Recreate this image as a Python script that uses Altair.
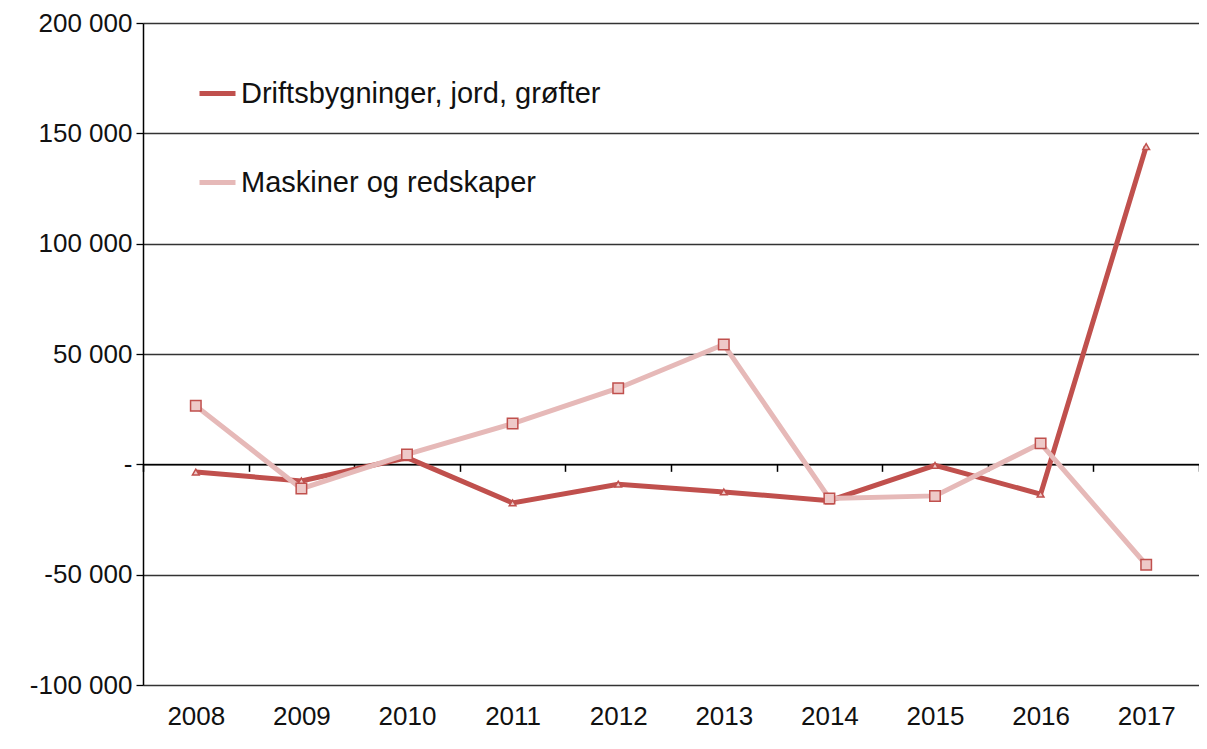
import altair as alt
import pandas as pd

years = [str(y) for y in range(2008, 2018)]
series_names = ["Driftsbygninger, jord, grøfter", "Maskiner og redskaper"]
drift = [-3500, -7500, 3000, -17500, -9000, -12500, -16500, -500, -13500, 144000]
mask = [26500, -11000, 4500, 18500, 34500, 54300, -15500, -14300, 9500, -45500]
line_colors = ["#c0504d", "#e6b9b8"]
marker_shapes = ["triangle-up", "square"]
marker_sizes = [45, 110]
y_ticks = [-100000, -50000, 0, 50000, 100000, 150000, 200000]

rows = []
for name, vals in zip(series_names, [drift, mask]):
    for yr, v in zip(years, vals):
        rows.append({"year": yr, "series": name, "value": v})
df = pd.DataFrame(rows)

W, H = 1056, 662
FONT = "Liberation Sans"

x_enc = alt.X(
    "year:O",
    bandPosition=0.5,
    scale=alt.Scale(type="band", paddingInner=0, paddingOuter=0),
    axis=alt.Axis(
        title=None, orient="bottom", offset=-H / 3,
        domainColor="#000", domainWidth=1.5,
        tickColor="#000", tickWidth=1.5, tickSize=7, tickBand="extent",
        labelAngle=0, labelFontSize=26, labelPadding=232, labelColor="#111",
        labelFont=FONT, grid=False,
    ),
)

y_enc = alt.Y(
    "value:Q",
    scale=alt.Scale(domain=[-100000, 200000], nice=False, zero=False),
    axis=alt.Axis(
        title=None, values=y_ticks, grid=True, gridColor="#333", gridWidth=1.3,
        domainColor="#000", domainWidth=1.5, tickColor="#000", tickWidth=1.3,
        tickSize=7, labelFontSize=26, labelColor="#111", labelFont=FONT,
        labelPadding=4,
        labelExpr="datum.value == 0 ? '-' : (datum.value < 0 ? '-' : '') + replace(format(abs(datum.value), ','), /,/g, ' ')",
    ),
)

color_enc = alt.Color(
    "series:N",
    scale=alt.Scale(domain=series_names, range=line_colors),
    legend=alt.Legend(
        title=None, orient="none", legendX=54, legendY=50, padding=0,
        symbolType="M-1,0H1", symbolSize=1296, symbolStrokeWidth=5,
        rowPadding=53, labelFontSize=29, labelFont=FONT, labelColor="#111",
        labelOffset=3, labelLimit=600,
    ),
)

lines = alt.Chart(df).mark_line(strokeWidth=5).encode(
    x=x_enc, y=y_enc, color=color_enc, order=alt.Order("year:O")
)

point_layers = []
for name, shp, sz in zip(series_names, marker_shapes, marker_sizes):
    point_layers.append(
        alt.Chart(df).transform_filter(alt.datum.series == name).mark_point(
            shape=shp, size=sz, filled=True, fill="#eec9c8", stroke="#c0504d",
            strokeWidth=1.5, opacity=1
        ).encode(x=x_enc, y=y_enc)
    )

chart = alt.layer(lines, *point_layers).properties(
    width=W, height=H,
    autosize=alt.AutoSizeParams(type="none"),
    padding={"left": 135, "top": 15, "right": 0, "bottom": 45},
    background="white",
).configure_view(stroke=None)

chart.save("out.html", embed_options={"renderer": "svg", "actions": False})
